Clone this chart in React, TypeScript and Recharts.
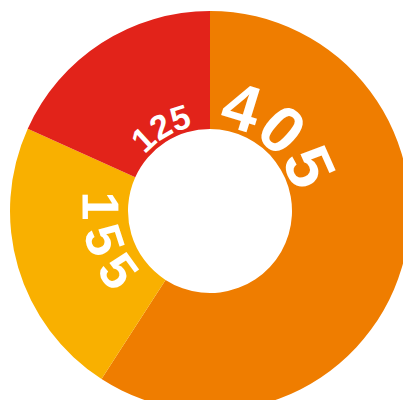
import React from "react";
import { PieChart, Pie, Cell } from "recharts";

const categories = ["A", "B", "C"];
const values = [405, 155, 125];
const colors = ["#EF7D00", "#F9B000", "#E2231A"];

const data = categories.map((name, i) => ({ name, value: values[i] }));
const total = values.reduce((a, b) => a + b, 0);

const FONT_SIZES = [66, 52, 34];
const RAD = Math.PI / 180;

const pt = (cx: number, cy: number, r: number, deg: number) => [
  cx + r * Math.sin(deg * RAD),
  cy - r * Math.cos(deg * RAD),
];

const renderLabel = (props: any) => {
  const { cx, cy, index, value } = props;
  const before = values.slice(0, index).reduce((a, b) => a + b, 0);
  const start = (before / total) * 360;
  const span = (values[index] / total) * 360;
  const base = start + Math.min(span / 2, 39);
  const bottom = base > 90 && base < 270;
  const theta = bottom ? base : base + 2.5;
  const fs = FONT_SIZES[index] ?? 30;
  const id = `pie-label-arc-${index}`;
  let d: string;
  let ls = 0;
  if (!bottom) {
    const R = 86;
    const [x1, y1] = pt(cx, cy, R, theta - 90);
    const [x2, y2] = pt(cx, cy, R, theta + 90);
    d = `M ${x1} ${y1} A ${R} ${R} 0 0 1 ${x2} ${y2}`;
  } else {
    const R = 90 + fs * 0.72;
    ls = 11;
    const [x1, y1] = pt(cx, cy, R, theta + 90);
    const [x2, y2] = pt(cx, cy, R, theta - 90);
    d = `M ${x1} ${y1} A ${R} ${R} 0 0 0 ${x2} ${y2}`;
  }
  return (
    <g>
      <defs>
        <path id={id} d={d} fill="none" />
      </defs>
      <text
        fill="#ffffff"
        style={{
          fontFamily: "'Liberation Sans', Arial, Helvetica, sans-serif",
          fontWeight: 700,
          fontSize: fs,
          letterSpacing: ls,
        }}
      >
        <textPath href={`#${id}`} startOffset="50%" textAnchor="middle">
          {String(value)}
        </textPath>
      </text>
    </g>
  );
};

export default function App() {
  return (
    <div style={{ position: "absolute", left: 0, top: 0, width: 403, height: 400, overflow: "hidden", background: "#fff" }}>
      <PieChart width={403} height={400} margin={{ top: 0, right: 0, bottom: 0, left: 0 }}>
        <Pie
          data={data}
          dataKey="value"
          nameKey="name"
          cx={210}
          cy={211}
          innerRadius={82}
          outerRadius={200}
          startAngle={90}
          endAngle={-270}
          stroke="none"
          label={renderLabel}
          labelLine={false}
          isAnimationActive={false}
        >
          {data.map((d, i) => (
            <Cell key={d.name} fill={colors[i]} />
          ))}
        </Pie>
      </PieChart>
    </div>
  );
}
